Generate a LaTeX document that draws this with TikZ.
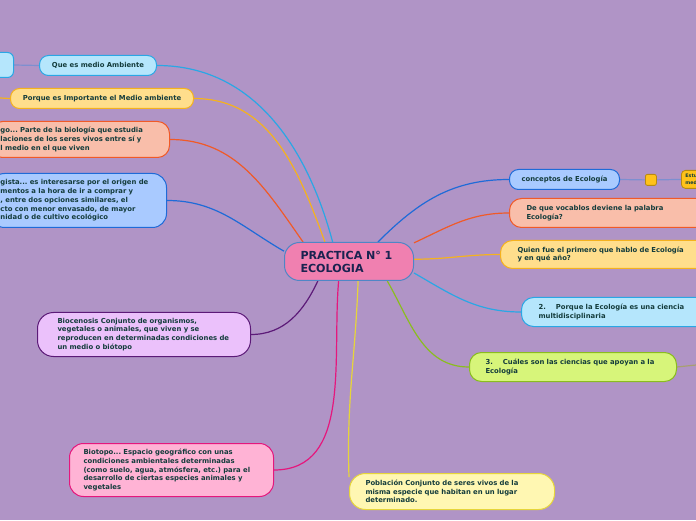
\documentclass[tikz,border=0pt]{standalone}
\usepackage{fontspec}
\setmainfont{DejaVu Sans}
\usetikzlibrary{backgrounds}
\frenchspacing
\definecolor{bg}{HTML}{B094C6}
\definecolor{txt}{HTML}{143C3C}
\definecolor{ctxt}{HTML}{1A2350}
\definecolor{cfill}{HTML}{F080B0}
\definecolor{cdraw}{HTML}{4F86C6}
\definecolor{cyanF}{HTML}{B5E6FC}
\definecolor{cyanD}{HTML}{2AA7E5}
\definecolor{yelF}{HTML}{FFDE8C}
\definecolor{yelD}{HTML}{F5B21E}
\definecolor{salF}{HTML}{F9BEAA}
\definecolor{salD}{HTML}{F05A28}
\definecolor{bluF}{HTML}{A9CAFF}
\definecolor{bluD}{HTML}{1F6BD8}
\definecolor{vioF}{HTML}{EBC1FB}
\definecolor{vioD}{HTML}{5C1A78}
\definecolor{pinF}{HTML}{FFB3D5}
\definecolor{pinD}{HTML}{E5177D}
\definecolor{lyF}{HTML}{FFF7B2}
\definecolor{lyD}{HTML}{E6D53A}
\definecolor{grF}{HTML}{D7F57A}
\definecolor{grD}{HTML}{8ABD1F}
\definecolor{orF}{HTML}{FFC21A}
\definecolor{orD}{HTML}{B98A10}
\definecolor{slate}{HTML}{7D8FD0}
\definecolor{olive}{HTML}{A8A070}
\newcommand\oneline[1]{\mbox{#1}}
\tikzset{
  box/.style={draw, line width=1pt, rounded corners=12pt, anchor=north west, align=left,
    text=txt, font=\bfseries\fontsize{6.85}{8.8}\selectfont, inner ysep=0pt},
  pill/.style={draw, line width=1pt, rounded corners=9pt, anchor=north west, align=center,
    text=txt, font=\bfseries\fontsize{6.85}{8.8}\selectfont, inner xsep=0pt, inner ysep=0pt},
  conn/.style={line width=1.2pt},
}
\begin{document}
\begin{tikzpicture}[x=1pt,y=1pt]
\useasboundingbox (0,0) rectangle (696,520);
% central
\node[draw=cdraw, fill=cfill, line width=1pt, rounded corners=15pt, anchor=north west,
  align=left, text=ctxt, font=\bfseries\fontsize{11.1}{13}\selectfont,
  text width=97pt, inner xsep=16pt, inner ysep=0pt, minimum height=38pt] (c) at (284,278)
  {\oneline{PRACTICA N° 1}\\ECOLOGIA};
% left side
\node[pill, fill=cyanF, draw=cyanD, minimum width=63pt, minimum height=25pt, rounded corners=6pt] (farL) at (-50,468) {};
\node[pill, fill=cyanF, draw=cyanD, minimum width=117pt, minimum height=20pt] (q) at (39,465) {Que es medio Ambiente};
\node[pill, fill=yelF, draw=yelD, minimum width=183pt, minimum height=20pt] (pq) at (10,432) {Porque es Importante el Medio ambiente};
\node[box, fill=salF, draw=salD, text width=159pt, inner xsep=10pt, minimum height=36pt] (eco) at (-10,399)
  {\oneline{go... Parte de la biología que estudia}\\\oneline{laciones de los seres vivos entre sí y}\\l medio en el que viven};
\node[box, fill=bluF, draw=bluD, text width=156pt, inner xsep=10pt, minimum height=54pt, rounded corners=14pt] (gis) at (-10,347)
  {\oneline{gista... es interesarse por el origen de}\\\oneline{mentos a la hora de ir a comprar y}\\\oneline{, entre dos opciones similares, el}\\\oneline{cto con menor envasado, de mayor}\\nidad o de cultivo ecológico};
\node[box, fill=vioF, draw=vioD, text width=173pt, inner xsep=20pt, minimum height=44pt, rounded corners=16pt] (bio) at (37,208)
  {\oneline{Biocenosis Conjunto de organismos,}\\\oneline{vegetales o animales, que viven y se}\\\oneline{reproducen en determinadas condiciones de}\\un medio o biótopo};
\node[box, fill=pinF, draw=pinD, text width=176pt, inner xsep=14pt, minimum height=53pt, rounded corners=14pt] (bt) at (69,77)
  {\oneline{Biotopo... Espacio geográfico con unas}\\\oneline{condiciones ambientales determinadas}\\\oneline{(como suelo, agua, atmósfera, etc.) para el}\\\oneline{desarrollo de ciertas especies animales y}\\vegetales};
\node[box, fill=lyF, draw=lyD, text width=173pt, inner xsep=16pt, minimum height=36pt, rounded corners=16pt] (pob) at (349,47)
  {\oneline{Población Conjunto de seres vivos de la}\\\oneline{misma especie que habitan en un lugar}\\determinado.};
% right side
\node[pill, fill=bluF, draw=bluD, minimum width=110pt, minimum height=20pt] (con) at (509,351) {conceptos de Ecología};
\node[draw=orD, fill=orF, line width=0.8pt, rounded corners=2pt, anchor=north west, minimum size=11pt, inner sep=0pt] (sq) at (645,346) {};
\node[draw=orD, fill=orF, line width=0.8pt, rounded corners=4pt, anchor=north west, align=left,
  text=txt, font=\bfseries\fontsize{4.8}{6.4}\selectfont, text width=40pt, inner xsep=4pt, inner ysep=0pt, minimum height=18pt] (est) at (681,350) {Estu\\med};
\node[box, fill=salF, draw=salD, text width=176pt, inner xsep=17pt, minimum height=29pt] (dq) at (509,322)
  {\oneline{De que vocablos deviene la palabra}\\Ecología?};
\node[box, fill=yelF, draw=yelD, text width=196pt, inner xsep=17pt, minimum height=28pt] (qf) at (500,280)
  {\oneline{Quien fue el primero que hablo de Ecología}\\y en qué año?};
\node[box, fill=cyanF, draw=cyanD, text width=176pt, inner xsep=17pt, minimum height=29pt] (n2) at (521,223)
  {\oneline{2.\hspace{10pt}Porque la Ecología es una ciencia}\\multidisciplinaria};
\node[box, fill=grF, draw=grD, text width=175pt, inner xsep=16pt, minimum height=29pt] (n3) at (469,168)
  {\oneline{3.\hspace{10pt}Cuáles son las ciencias que apoyan a la}\\Ecología};
\coordinate (edgeL) at (0,422);
\coordinate (edgeR) at (696,155);
\begin{pgfonlayer}{background}
\fill[bg] (0,0) rectangle (696,520);
\draw[conn, cyanD] (c.130) to[out=105,in=0] (q.east);
\draw[conn, yelD] (c.141) to[out=110,in=0] (pq.east);
\draw[conn, salD] (c.157) to[out=125,in=0] (eco.east);
\draw[conn, bluD] (c.171) to[out=150,in=0] (gis.east);
\draw[conn, vioD] (c.212) to[out=245,in=0] (bio.east);
\draw[conn, pinD] (c.242) to[out=265,in=0] (bt.east);
\draw[conn, lyD] (c.295) to[out=268,in=92] (pob.172);
\draw[conn, grD] (c.333) to[out=300,in=180] (n3.west);
\draw[conn, cyanD] (c.350) to[out=330,in=180] (n2.west);
\draw[conn, yelD] (c.2) to[out=0,in=180] (qf.west);
\draw[conn, salD] (c.16) to[out=25,in=180] (dq.west);
\draw[conn, bluD] (c.34) to[out=45,in=180] (con.west);
\draw[conn, slate] (q.west) -- (farL.east);
\draw[conn, yelD] (pq.west) -- (edgeL);
\draw[conn, slate] (con.east) -- (sq.west);
\draw[conn, slate] (sq.east) -- (est.west);
\draw[conn, olive] (n3.east) -- (edgeR);
\end{pgfonlayer}
\end{tikzpicture}
\end{document}
